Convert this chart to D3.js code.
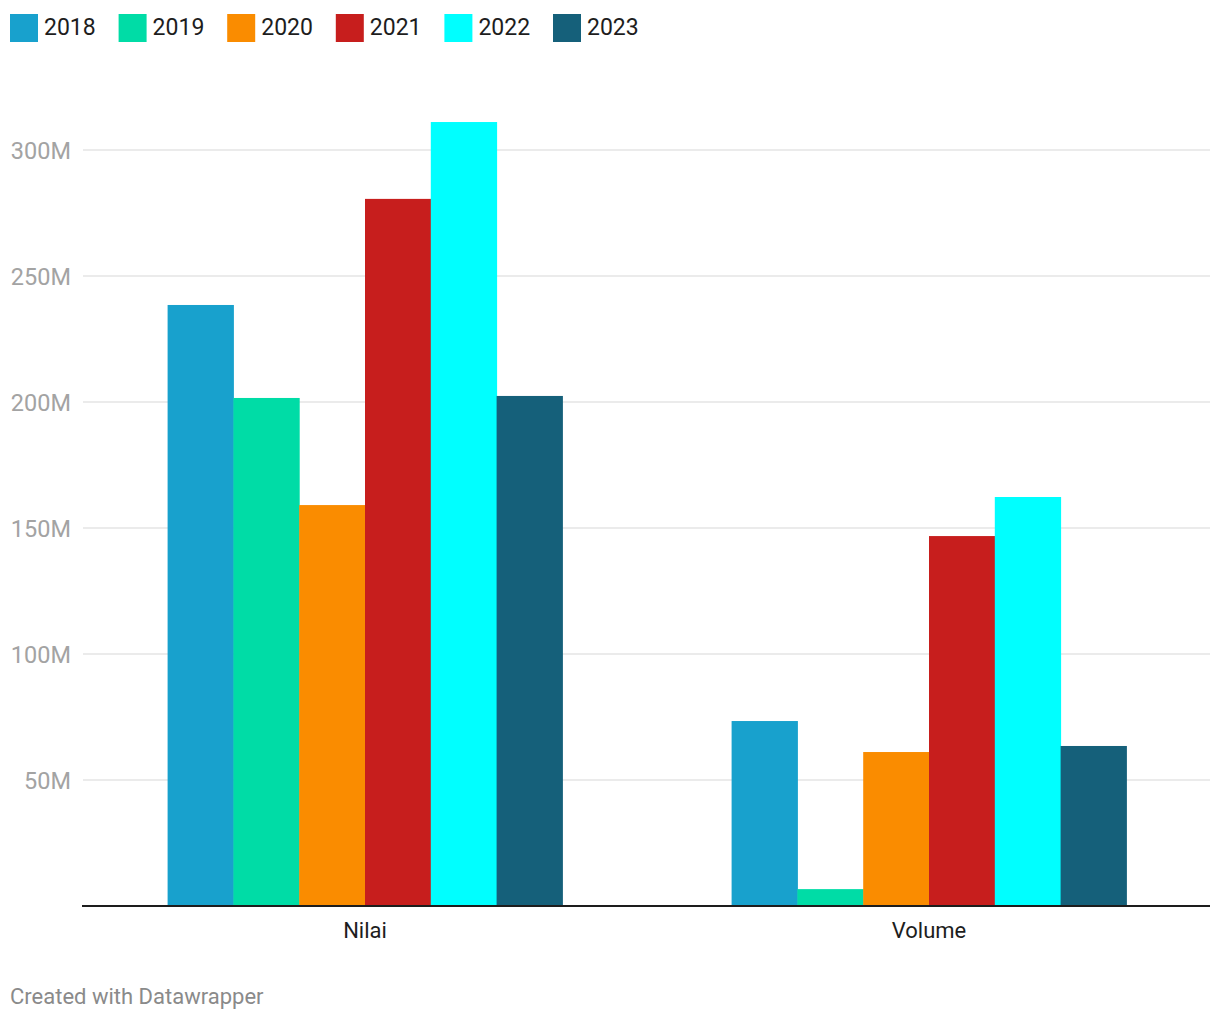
<!DOCTYPE html>
<html><head><meta charset="utf-8">
<script src="https://cdn.jsdelivr.net/npm/d3@7"></script>
<style>body{margin:0;background:#fff;font-family:Roboto,"Noto Sans",sans-serif;}</style>
</head><body><svg id="c" width="1220" height="1020"></svg>
<script>
const categories = ["Nilai", "Volume"];
const years = ["2018", "2019", "2020", "2021", "2022", "2023"];
const nilai = [238.5, 201.6, 159.1, 280.6, 311.1, 202.4];
const volume = [73.4, 6.7, 61.1, 146.8, 162.3, 63.5];
const yTicks = [50, 100, 150, 200, 250, 300];
const colors = ["#18a1cd", "#00dca6", "#fa8c00", "#c71e1d", "#00ffff", "#15607a"];

const seriesByCat = {Nilai: nilai, Volume: volume};
const svg = d3.select("#c");
const mLeft = 82, mRight = 1210, mBottom = 906;

const x0 = d3.scaleBand().domain(categories).range([mLeft + 1, mRight + 1]).paddingInner(0.3).paddingOuter(0.15);
const x1 = d3.scaleBand().domain(years).range([0, x0.bandwidth()]);
const y = d3.scaleLinear().domain([0, 300]).range([mBottom, 150]);
const color = d3.scaleOrdinal().domain(years).range(colors);

// grid
const g = svg.append("g");
g.selectAll("line.grid").data(yTicks).join("line")
  .attr("x1", mLeft + 1).attr("x2", mRight)
  .attr("y1", d => y(d)).attr("y2", d => y(d))
  .attr("stroke", "#e5e5e5").attr("stroke-width", 1.5);
g.selectAll("text.tick").data(yTicks).join("text")
  .attr("x", 71).attr("y", d => y(d)).attr("dy", "0.38em")
  .attr("text-anchor", "end").attr("fill", "#a3a3a3")
  .attr("font-size", 23.5).text(d => d + "M");

// bars
categories.forEach(cat => {
  const vals = seriesByCat[cat];
  svg.append("g").selectAll("rect").data(years.map((yr, i) => ({yr, v: vals[i]}))).join("rect")
    .attr("x", d => x0(cat) + x1(d.yr))
    .attr("width", x1.bandwidth() + 0.5)
    .attr("y", d => y(d.v))
    .attr("height", d => y(0) - y(d.v))
    .attr("fill", d => color(d.yr));
});

// baseline
svg.append("line").attr("x1", mLeft).attr("x2", mRight).attr("y1", mBottom).attr("y2", mBottom)
  .attr("stroke", "#1d1d1d").attr("stroke-width", 2);

// category labels
svg.selectAll("text.cat").data(categories).join("text")
  .attr("x", d => x0(d) + x0.bandwidth() / 2).attr("y", 938)
  .attr("text-anchor", "middle").attr("fill", "#1d1d1d").attr("font-size", 22).text(d => d);

// legend
const lg = svg.append("g");
const items = lg.selectAll("g").data(years).join("g")
  .attr("transform", (d, i) => `translate(${10 + i * 108.6},14)`);
items.append("rect").attr("width", 28).attr("height", 28).attr("fill", d => color(d));
items.append("text").attr("x", 34).attr("y", 20.5).attr("font-size", 23).attr("fill", "#1d1d1d").text(d => d);

// footer
svg.append("text").attr("x", 10).attr("y", 1004).attr("font-size", 22).attr("fill", "#8a8a8a")
  .text("Created with Datawrapper");
</script></body></html>
